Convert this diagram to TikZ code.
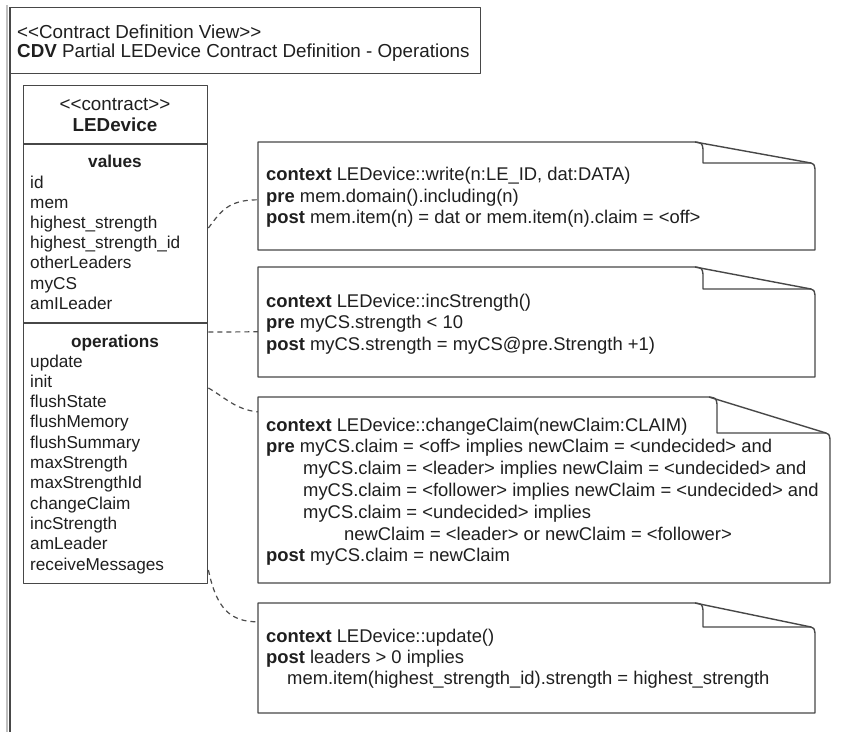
\documentclass[tikz,border=0pt]{standalone}
\usepackage{fontspec}
\setmainfont{Liberation Sans}[Ligatures=TeXOff]
\usetikzlibrary{calc,fit}

% a note with a curled top-right corner: name, left, top, right, bottom, flap x, flap y
\newcommand\curlnote[7]{%
  \path (#2,#3) coordinate (#1-nw) (#4,#5) coordinate (#1-se);
  \node[fit=(#1-nw)(#1-se), inner sep=0pt] (#1) {};
  \draw[edge] (#2,#3) -- (#6-8,#3) -- (#4-4,#7) .. controls (#4-1,#7+1) .. (#4,#7+6)
     -- (#4,#5) -- (#2,#5) -- cycle;
  \draw[edge] (#6-8,#3) .. controls (#6-1,#3+1) .. (#6,#3+7) -- (#6,#7) -- (#4-4,#7);
}

\begin{document}
\begin{tikzpicture}[x=1pt,y=-1pt,
  edge/.style={draw=black!72, line width=1.4pt, line join=round},
  conn/.style={draw=black!70, line width=1.2pt, dash pattern=on 5pt off 4pt},
  hdr/.style={font=\fontsize{18.8}{22}\selectfont, text=black!88, anchor=base west, inner sep=0pt},
  ttl/.style={font=\fontsize{18.8}{22}\selectfont, text=black!88, anchor=base, inner sep=0pt},
  sec/.style={font=\fontsize{17.2}{20}\selectfont\bfseries, text=black!88, anchor=base, inner sep=0pt},
  item/.style={font=\fontsize{17.2}{20}\selectfont, text=black!88, anchor=base west, inner sep=0pt},
  ntxt/.style={font=\fontsize{18.4}{22}\selectfont, text=black!88, anchor=base west, inner sep=0pt}]

\useasboundingbox (0,0) rectangle (842,732);
\fill[white] (0,0) rectangle (842,732);

% diagram frame with its heading
\draw[black!25, line width=2pt] (7,5) -- (7,732);
\node[edge, rectangle, anchor=north west, minimum width=470pt, minimum height=66pt, inner sep=0pt] (frame) at (10,7) {};
\draw[edge] (frame.north west) -- (10,732);
\node[hdr] (h1) at (17,38) {<<Contract Definition View>>};
\node[hdr] (h2) at (17,57) {\textbf{CDV} Partial LEDevice Contract Definition - Operations};

% contract class
\node[edge, rectangle, anchor=north west, minimum width=184pt, minimum height=498pt, inner sep=0pt] (cls) at (23,85) {};
\draw[edge] (23,144) -- (207,144);
\draw[edge] (23,323) -- (207,323);
\node[ttl] (stereo) at (115,110) {<<contract>>};
\node[ttl] (cname) at (115,131) {\textbf{LEDevice}};

\node[sec] (vals) at (115,167) {values};
\foreach \t [count=\i from 0] in {id,mem,highest\_strength,highest\_strength\_id,otherLeaders,myCS,amILeader}
  \node[item] (v\i) at (30,188+20.2*\i) {\t};

\node[sec] (ops) at (115,347) {operations};
\foreach \t [count=\i from 0] in {update,init,flushState,flushMemory,flushSummary,maxStrength,maxStrengthId,changeClaim,incStrength,amLeader,receiveMessages}
  \node[item] (o\i) at (30,367+20.3*\i) {\t};

% OCL notes
\curlnote{nA}{258}{142}{815}{250}{703}{163}
\node[ntxt] (a1) at (266,180.3) {\textbf{context} LEDevice::write(n:LE\_ID, dat:DATA)};
\node[ntxt] (a2) at (266,202) {\textbf{pre} mem.domain().including(n)};
\node[ntxt] (a3) at (266,223.7) {\textbf{post} mem.item(n) = dat or mem.item(n).claim = <off>};

\curlnote{nB}{258}{267}{815}{377}{703}{289}
\node[ntxt] (b1) at (266,307) {\textbf{context} LEDevice::incStrength()};
\node[ntxt] (b2) at (266,328.5) {\textbf{pre} myCS.strength < 10};
\node[ntxt] (b3) at (266,350) {\textbf{post} myCS.strength = myCS@pre.Strength +1)};

\curlnote{nC}{258}{397}{830}{583}{717}{433}
\node[ntxt] (c1) at (266,431) {\textbf{context} LEDevice::changeClaim(newClaim:CLAIM)};
\node[ntxt] (c2) at (266,452.8) {\textbf{pre} myCS.claim = <off> implies newClaim = <undecided> and};
\node[ntxt] (c3) at (303,474.6) {myCS.claim = <leader> implies newClaim = <undecided> and};
\node[ntxt] (c4) at (303,496.4) {myCS.claim = <follower> implies newClaim = <undecided> and};
\node[ntxt] (c5) at (303,518.2) {myCS.claim = <undecided> implies};
\node[ntxt] (c6) at (344,540) {newClaim = <leader> or newClaim = <follower>};
\node[ntxt] (c7) at (266,561.8) {\textbf{post} myCS.claim = newClaim};

\curlnote{nD}{258}{603}{815}{713}{703}{627}
\node[ntxt] (d1) at (266,642) {\textbf{context} LEDevice::update()};
\node[ntxt] (d2) at (266,663) {\textbf{post} leaders > 0 implies};
\node[ntxt] (d3) at (287,684) {mem.item(highest\_strength\_id).strength = highest\_strength};

% note attachments
\draw[conn] ($(cls.north east)+(0,143)$) .. controls +(12,-16) and +(-30,0) .. ($(nA.north west)+(0,58)$);
\draw[conn] ($(cls.north east)+(0,247)$) -- ($(nB.north west)+(0,65)$);
\draw[conn] ($(cls.north east)+(0,303)$) .. controls +(16,9) and +(-22,-2) .. ($(nC.north west)+(0,15)$);
\draw[conn] ($(cls.north east)+(0,485)$) .. controls +(8,38) and +(-28,0) .. ($(nD.north west)+(0,19)$);

\end{tikzpicture}
\end{document}
